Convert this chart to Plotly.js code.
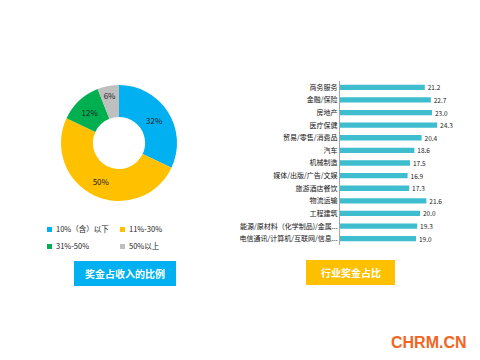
<!DOCTYPE html>
<html><head><meta charset="utf-8">
<script src="https://cdn.plot.ly/plotly-3.0.1.min.js"></script>
<style>html,body{margin:0;padding:0;background:#fff}#c{width:480px;height:360px}</style>
</head><body><div id="c"></div>
<script>
const pieLabels = ['10%（含）以下', '11%-30%', '31%-50%', '50%以上'];
const pieValues = [32, 50, 12, 6];
const pieColors = ['#00B0F0', '#FFC000', '#00B050', '#BFBFBF'];

const industries = ['商务服务', '金融/保险', '房地产', '医疗保健', '贸易/零售/消费品', '汽车', '机械制造',
  '媒体/出版/广告/文娱', '旅游酒店餐饮', '物流运输', '工程建筑', '能源/原材料（化学制品)/金属...', '电信通讯/计算机/互联网/信息...'];
const industryValues = [21.2, 22.7, 23.0, 24.3, 20.4, 18.6, 17.5, 16.9, 17.3, 21.6, 20.0, 19.3, 19.0];

const font = '"Noto Sans CJK SC", "Noto Sans", sans-serif';
const W = 480, H = 360;
const px = x => x / W, py = y => 1 - y / H;

const pie = {
  type: 'pie', labels: pieLabels, values: pieValues, sort: false, direction: 'clockwise', rotation: 0,
  hole: 0.45, marker: {colors: pieColors, line: {width: 0}},
  texttemplate: '%{value}%', textposition: 'inside', insidetextorientation: 'horizontal',
  textfont: {family: font, size: 8, color: '#222'},
  domain: {x: [px(61), px(177)], y: [py(201), py(85)]}, hoverinfo: 'none'
};

const bar = {
  type: 'bar', orientation: 'h', y: industries, x: industryValues,
  marker: {color: '#3DBDCE'}, text: industryValues.map(v => '\u00a0\u00a0' + v.toFixed(1)),
  textposition: 'outside', cliponaxis: false, constraintext: 'none',
  textfont: {family: font, size: 6.5, color: '#222'}, xaxis: 'x', yaxis: 'y', hoverinfo: 'none'
};

const annotations = [];
const shapes = [];
const legPos = [[47, 229], [120, 229], [47, 246], [120, 246]];
pieLabels.forEach((l, i) => {
  const [x, y] = legPos[i];
  shapes.push({type: 'rect', xref: 'paper', yref: 'paper', layer: 'below', x0: px(x), x1: px(x + 5), y0: py(y + 3), y1: py(y - 2),
    fillcolor: pieColors[i], line: {width: 0}});
  annotations.push({xref: 'paper', yref: 'paper', x: px(x + 7), y: py(y - 1), xanchor: 'left', yanchor: 'middle',
    text: l, showarrow: false, font: {family: font, size: 7.5, color: '#222'}});
});
shapes.push({type: 'rect', xref: 'paper', yref: 'paper', layer: 'below', x0: px(74), x1: px(176), y0: py(286), y1: py(261), fillcolor: '#00B0F0', line: {width: 0}});
shapes.push({type: 'rect', xref: 'paper', yref: 'paper', layer: 'below', x0: px(306), x1: px(395), y0: py(285), y1: py(260), fillcolor: '#FFC000', line: {width: 0}});
annotations.push({xref: 'paper', yref: 'paper', x: px(125), y: py(273.5), xanchor: 'center', yanchor: 'middle', text: '<b>奖金占收入的比例</b>', showarrow: false,
  font: {family: font, size: 10, color: '#fff'}});
annotations.push({xref: 'paper', yref: 'paper', x: px(350.5), y: py(272.5), xanchor: 'center', yanchor: 'middle', text: '<b>行业奖金占比</b>', showarrow: false,
  font: {family: font, size: 10, color: '#fff'}});
annotations.push({xref: 'paper', yref: 'paper', x: px(469), y: py(342), xanchor: 'right', yanchor: 'middle', text: '<b>CHRM.CN</b>', showarrow: false,
  font: {family: '"Liberation Sans", Arial, sans-serif', size: 16, color: '#F26522'}});

const layout = {
  width: W, height: H, margin: {l: 0, r: 0, t: 0, b: 0}, paper_bgcolor: '#fff', plot_bgcolor: 'rgba(0,0,0,0)',
  showlegend: false, bargap: 0.58,
  xaxis: {domain: [px(340), px(458)], range: [0, 29.5], showgrid: false, zeroline: false, showticklabels: false, showline: false, fixedrange: true},
  yaxis: {domain: [py(245), py(81)], autorange: 'reversed', showgrid: false, zeroline: false,
    showline: true, linecolor: '#A6A6A6', linewidth: 1, ticks: '', ticklen: 0,
    tickfont: {family: font, size: 7, color: '#111'}, automargin: false},
  shapes, annotations
};

Plotly.newPlot('c', [pie, bar], layout, {staticPlot: true});
</script></body></html>
